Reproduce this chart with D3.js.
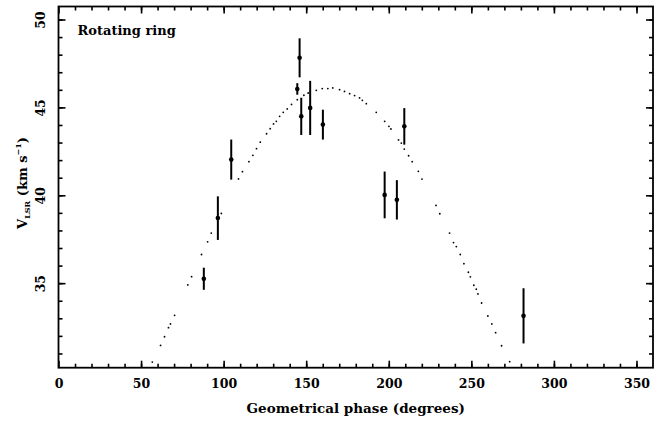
<!DOCTYPE html>
<html>
<head>
<meta charset="utf-8">
<script src="https://cdn.jsdelivr.net/npm/d3@7"></script>
<style>
  body { margin: 0; background: #fff; }
  text { font-family: "DejaVu Serif", serif; font-weight: bold; fill: #000; }
</style>
</head>
<body>
<svg id="drawing_region"></svg>
<script>
// measured points with error bars
const phase = [88.0, 96.5, 104.6, 144.6, 146.0, 147.0, 152.4, 160.1, 197.5, 204.9, 209.4, 281.6];
const vlsr  = [35.25, 38.70, 42.03, 46.05, 47.82, 44.49, 44.97, 44.02, 40.02, 39.74, 43.92, 33.14];
const verr  = [0.63, 1.24, 1.14, 0.33, 1.11, 1.06, 1.54, 0.85, 1.33, 1.12, 1.04, 1.57];

// dotted model curve, dots
const curvePhase = [56.8, 61.8, 64.2, 66.6, 67.8, 70.3, 78.3, 80.6, 86.6, 90.3, 92.5, 98.6,
  109.0, 111.4, 115.3, 117.7, 119.9, 122.2, 126.0, 128.2, 130.2, 131.9, 133.9, 136.1, 138.5,
  141.1, 144.6, 148.6, 151.2, 156.1, 159.7, 163.1, 166.1, 170.2, 173.2, 176.3, 179.3, 182.3,
  184.0, 186.4, 192.4, 197.5, 200.1, 201.3, 205.9, 207.6, 209.4, 212.0, 214.2, 217.9, 220.1,
  228.6, 230.9, 236.8, 239.2, 240.9, 243.3, 245.5, 248.2, 249.4, 251.5, 253.0, 254.0, 256.2,
  260.0, 262.4, 264.7, 268.3, 273.2];
const curveV = [30.51, 31.46, 31.95, 32.47, 32.68, 33.17, 34.90, 35.37, 36.63, 37.35, 37.85, 38.97,
  40.93, 41.34, 41.91, 42.27, 42.65, 43.02, 43.50, 43.79, 44.06, 44.21, 44.49, 44.72, 44.91,
  45.17, 45.44, 45.69, 45.82, 45.97, 46.07, 46.07, 46.11, 46.01, 45.91, 45.78, 45.67, 45.54,
  45.40, 45.21, 44.72, 44.21, 43.92, 43.77, 43.15, 42.97, 42.63, 42.25, 41.91, 41.36, 40.92,
  39.42, 38.95, 37.85, 37.31, 37.08, 36.63, 36.11, 35.62, 35.36, 34.88, 34.66, 34.39, 33.87,
  33.13, 32.68, 32.18, 31.44, 30.53];

const xMajor = [0, 50, 100, 150, 200, 250, 300, 350];
const xMinor = d3.range(10, 360, 10);
const yMajor = [35, 40, 45, 50];
const yMinor = d3.range(31, 51, 1);

const width = 664, height = 421;
const margin = {top: 6.5, right: 11, bottom: 53.3, left: 58.5};
const inner_width = width - margin.left - margin.right;
const inner_height = height - margin.top - margin.bottom;

const svg = d3.select('#drawing_region')
    .attr('width', width)
    .attr('height', height);

const chart = svg.append('g')
    .attr('transform', `translate(${margin.left}, ${margin.top})`);

const xscale = d3.scaleLinear().domain([0, 360]).range([0, inner_width]);
const yscale = d3.scaleLinear().domain([30.19, 50.74]).range([inner_height, 0]);

// ticks on all four sides, pointing inward
function addAxis(axis, transform, values, size, labels) {
    const g = chart.append('g')
        .attr('transform', transform)
        .call(axis.tickValues(values).tickSize(-size).tickFormat(labels ? d3.format('d') : ''));
    g.select('.domain').remove();
    g.selectAll('.tick line').attr('stroke', '#000').attr('stroke-width', 1.6);
    g.selectAll('text').attr('font-family', null);
    return g;
}

const xb = addAxis(d3.axisBottom(xscale).tickPadding(11), `translate(0, ${inner_height})`, xMajor, 7, true);
xb.selectAll('text').attr('font-size', 12.5);
addAxis(d3.axisBottom(xscale), `translate(0, ${inner_height})`, xMinor, 4, false);
addAxis(d3.axisTop(xscale), 'translate(0, 0)', xMajor, 7, false);
addAxis(d3.axisTop(xscale), 'translate(0, 0)', xMinor, 4, false);

const yl = addAxis(d3.axisLeft(yscale), 'translate(0, 0)', yMajor, 7, true);
yl.selectAll('text')
    .attr('x', 0).attr('dy', 0)
    .attr('text-anchor', 'middle')
    .attr('font-size', 12.5)
    .attr('transform', 'translate(-14, 0) rotate(-90)');
addAxis(d3.axisLeft(yscale), 'translate(0, 0)', yMinor, 4, false);
addAxis(d3.axisRight(yscale), `translate(${inner_width}, 0)`, yMajor, 7, false);
addAxis(d3.axisRight(yscale), `translate(${inner_width}, 0)`, yMinor, 4, false);

chart.append('rect')
    .attr('width', inner_width)
    .attr('height', inner_height)
    .attr('fill', 'none')
    .attr('stroke', '#000')
    .attr('stroke-width', 1.8);

// model curve dots
chart.selectAll('.cdot')
    .data(d3.zip(curvePhase, curveV))
    .enter()
    .append('circle')
    .attr('class', 'cdot')
    .attr('cx', d => xscale(d[0]))
    .attr('cy', d => yscale(d[1]))
    .attr('r', 0.9)
    .attr('fill', '#000');

const pts = phase.map((p, i) => ({p: p, v: vlsr[i], e: verr[i]}));

chart.selectAll('.ebar')
    .data(pts)
    .enter()
    .append('line')
    .attr('class', 'ebar')
    .attr('x1', d => xscale(d.p))
    .attr('x2', d => xscale(d.p))
    .attr('y1', d => yscale(d.v - d.e))
    .attr('y2', d => yscale(d.v + d.e))
    .attr('stroke', '#000')
    .attr('stroke-width', 2);

chart.selectAll('.pt')
    .data(pts)
    .enter()
    .append('circle')
    .attr('class', 'pt')
    .attr('cx', d => xscale(d.p))
    .attr('cy', d => yscale(d.v))
    .attr('r', 2.3)
    .attr('fill', '#000');

chart.append('text')
    .attr('x', 19)
    .attr('y', 28.5)
    .attr('font-size', 13)
    .text('Rotating ring');

svg.append('text')
    .attr('x', margin.left + inner_width / 2)
    .attr('y', 413)
    .attr('text-anchor', 'middle')
    .attr('font-size', 13.5)
    .text('Geometrical phase (degrees)');

const ylab = svg.append('text')
    .attr('transform', 'translate(27, 183) rotate(-90)')
    .attr('text-anchor', 'middle')
    .attr('font-size', 13);
ylab.append('tspan').text('V');
ylab.append('tspan').attr('font-size', 8).attr('dy', 3).text('LSR');
ylab.append('tspan').attr('dy', -3).text(' (km s');
ylab.append('tspan').attr('font-size', 8).attr('dy', -6).text('−1');
ylab.append('tspan').attr('dy', 6).text(')');
</script>
</body>
</html>
